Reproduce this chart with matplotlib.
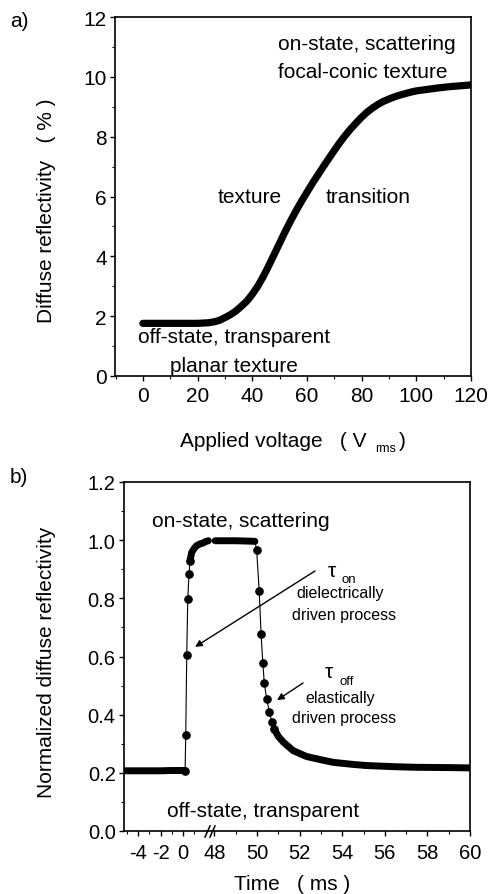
import numpy as np
import matplotlib
matplotlib.use("Agg")
import matplotlib.pyplot as plt
from matplotlib.ticker import MultipleLocator, FixedLocator
from matplotlib.path import Path

plt.rcParams['font.family'] = ['Liberation Sans', 'DejaVu Sans']

# ---------------- data: panel a ----------------
voltage = [0, 4, 8, 12, 16, 20, 24, 26, 28, 30, 32, 34, 36, 38, 40, 42, 44, 46,
           48, 50, 52, 54, 56, 58, 60, 62, 64, 66, 68, 70, 72, 74, 76, 78, 80,
           82, 84, 86, 88, 90, 92, 94, 96, 98, 100, 104, 108, 112, 116, 120]
reflect = [1.76, 1.76, 1.76, 1.76, 1.76, 1.76, 1.78, 1.81, 1.86, 1.95, 2.05,
           2.17, 2.33, 2.5, 2.73, 3.0, 3.32, 3.68, 4.06, 4.44, 4.82, 5.18, 5.52,
           5.84, 6.14, 6.44, 6.72, 7.0, 7.27, 7.54, 7.8, 8.04, 8.26, 8.46, 8.65,
           8.82, 8.96, 9.08, 9.18, 9.26, 9.33, 9.39, 9.44, 9.49, 9.53, 9.58,
           9.63, 9.67, 9.7, 9.73]
a_xticks = [0, 20, 40, 60, 80, 100, 120]
a_yticks = [0, 2, 4, 6, 8, 10, 12]

# ---------------- data: panel b ----------------
off_t = [-5.25, -4, -3, -2, -1, 0, 0.18]
off_n = [0.207, 0.207, 0.207, 0.207, 0.208, 0.208, 0.208]
rise_t = [0.18, 0.24, 0.33, 0.42, 0.53, 0.62]
rise_n = [0.208, 0.331, 0.606, 0.797, 0.884, 0.93]
top1_t = [0.62, 0.77, 1.0, 1.2, 1.5, 1.78, 2.0, 2.25]
top1_n = [0.93, 0.958, 0.972, 0.981, 0.987, 0.99, 0.995, 0.998]
top2_t = [48.03, 48.5, 49.0, 49.5, 49.9]
top2_n = [0.998, 0.998, 0.998, 0.997, 0.996]
fall_t = [49.98, 50.1, 50.19, 50.27, 50.34, 50.45, 50.58, 50.69, 50.8]
fall_n = [0.967, 0.826, 0.677, 0.577, 0.509, 0.454, 0.41, 0.376, 0.351]
tail_t = [50.8, 51.0, 51.24, 51.7, 52.33, 53.0, 53.58, 54.5, 55.15, 56.5, 57.5, 59, 60]
tail_n = [0.351, 0.325, 0.305, 0.276, 0.256, 0.245, 0.236, 0.229, 0.225, 0.221,
          0.219, 0.218, 0.217]
b_xticks = [-4, -2, 0, 48, 50, 52, 54, 56, 58, 60]
b_xminor = [-5, -3, -1, 1, 49, 51, 53, 55, 57, 59]
b_yticks = [0.0, 0.2, 0.4, 0.6, 0.8, 1.0, 1.2]

# broken time axis scale
S1, S2, TB, T0, EPS = 11.25, 21.3, 2.5, 47.845, 1e-4
UB = TB * S1
GAP = (T0 - TB) * EPS

def fwd(t):
    t = np.asarray(t, dtype=float)
    return np.where(t <= TB, t * S1,
                    np.where(t >= T0, UB + GAP + (t - T0) * S2, UB + (t - TB) * EPS))

def inv(u):
    u = np.asarray(u, dtype=float)
    return np.where(u <= UB, u / S1,
                    np.where(u >= UB + GAP, T0 + (u - UB - GAP) / S2, TB + (u - UB) / EPS))

W, H = 489, 895
fig = plt.figure(figsize=(W / 100, H / 100), dpi=100)

def fx(px):
    return px / W

def fy(py):
    return 1 - py / H

def style(ax, fs, xpad):
    ax.tick_params(which='both', direction='out', top=False, right=False)
    ax.tick_params(axis='both', which='major', length=3.5, width=1, labelsize=fs)
    ax.tick_params(axis='both', which='minor', length=2.2, width=0.8)
    ax.tick_params(axis='x', which='major', pad=xpad)
    ax.tick_params(axis='y', which='major', pad=2.5)
    for sp in ax.spines.values():
        sp.set_linewidth(1.2)

# ---------------- panel a ----------------
axa = fig.add_axes([fx(115), fy(377), (471 - 115) / W, (377 - 18) / H])
axa.plot(voltage, reflect, color='black', lw=5.2, solid_capstyle='round',
         solid_joinstyle='round')
axa.set_xlim(-10.2, 120)
axa.set_ylim(0, 12)
axa.xaxis.set_major_locator(FixedLocator(a_xticks))
axa.xaxis.set_minor_locator(MultipleLocator(10))
axa.yaxis.set_major_locator(FixedLocator(a_yticks))
axa.yaxis.set_minor_locator(MultipleLocator(1))
style(axa, 15, 4)

axa.text(49.4, 10.94, 'on-state, scattering', fontsize=15, ha='left', va='baseline')
axa.text(49.4, 10.0, 'focal-conic texture', fontsize=15, ha='left', va='baseline')
axa.text(27.4, 5.82, 'texture', fontsize=15, ha='left', va='baseline')
axa.text(67.0, 5.82, 'transition', fontsize=15, ha='left', va='baseline')
axa.text(-1.8, 1.14, 'off-state, transparent', fontsize=15, ha='left', va='baseline')
axa.text(9.9, 0.17, 'planar texture', fontsize=15, ha='left', va='baseline')

fig.text(fx(10), fy(12), 'a)', fontsize=15, ha='left', va='top')
fig.text(fx(47), fy(211), 'Diffuse reflectivity   ( % )', fontsize=15,
         rotation=90, ha='center', va='center')
fig.text(fx(180), fy(447), 'Applied voltage   ( V', fontsize=15, ha='left', va='baseline')
fig.text(fx(375), fy(452), 'rms', fontsize=9, ha='left', va='baseline')
fig.text(fx(399), fy(447), ')', fontsize=15, ha='left', va='baseline')

# ---------------- panel b ----------------
axb = fig.add_axes([fx(124), fy(832), (470 - 124) / W, (832 - 483) / H])
axb.set_xscale('function', functions=(fwd, inv))
axb.set_xlim(-5.25, 60)
axb.set_ylim(0, 1.2)

lw_dense = 5.0
# thin connecting lines
axb.plot(off_t + rise_t[1:] + top1_t[1:], off_n + rise_n[1:] + top1_n[1:],
         color='black', lw=0.8)
axb.plot(top2_t + fall_t + tail_t[1:], top2_n + fall_n + tail_n[1:],
         color='black', lw=0.8)
# dense segments
for tt, nn in ((off_t, off_n), (top1_t, top1_n), (top2_t, top2_n), (tail_t, tail_n)):
    axb.plot(tt, nn, color='black', lw=lw_dense, solid_capstyle='round',
             solid_joinstyle='round')
# sparse points
axb.plot(rise_t, rise_n, 'o', color='black', ms=5.2)
axb.plot(fall_t, fall_n, 'o', color='black', ms=5.2)

axb.xaxis.set_major_locator(FixedLocator(b_xticks))
axb.xaxis.set_minor_locator(FixedLocator(b_xminor))
axb.xaxis.set_major_formatter(matplotlib.ticker.FuncFormatter(lambda v, p: '%d' % round(v)))
axb.yaxis.set_major_locator(FixedLocator(b_yticks))
axb.yaxis.set_minor_locator(MultipleLocator(0.1))
axb.yaxis.set_major_formatter(matplotlib.ticker.FormatStrFormatter('%.1f'))
style(axb, 14.5, 5.5)

# break marks on the time axis
slash = Path([(-0.45, -1.0), (0.45, 1.0)], [Path.MOVETO, Path.LINETO])
axb.plot([2.15, 47.89], [0, 0], linestyle='none', marker=slash, ms=9,
         mec='black', mfc='none', mew=1.1, transform=axb.get_xaxis_transform(),
         clip_on=False)

axb.text(-2.76, 1.049, 'on-state, scattering', fontsize=15, ha='left', va='baseline')
axb.text(53.33, 0.877, 'τ', fontsize=15, ha='left', va='baseline')
axb.text(53.95, 0.855, 'on', fontsize=9.5, ha='left', va='baseline')
axb.text(53.9, 0.805, 'dielectrically', fontsize=11.5, ha='center', va='baseline')
axb.text(54.1, 0.729, 'driven process', fontsize=11.5, ha='center', va='baseline')
axb.annotate('', xy=(1.07, 0.633), xytext=(52.72, 0.894),
             arrowprops=dict(arrowstyle='-|>', color='black', lw=1.0,
                             mutation_scale=10, shrinkA=0, shrinkB=0))

axb.text(53.2, 0.53, 'τ', fontsize=15, ha='left', va='baseline')
axb.text(53.85, 0.505, 'off', fontsize=9.5, ha='left', va='baseline')
axb.text(53.9, 0.444, 'elastically', fontsize=11.5, ha='center', va='baseline')
axb.text(54.1, 0.375, 'driven process', fontsize=11.5, ha='center', va='baseline')
axb.annotate('', xy=(50.94, 0.45), xytext=(52.16, 0.509),
             arrowprops=dict(arrowstyle='-|>', color='black', lw=1.0,
                             mutation_scale=10, shrinkA=0, shrinkB=0))

axb.text(-1.42, 0.052, 'off-state, transparent', fontsize=15, ha='left', va='baseline')

fig.text(fx(10), fy(468), 'b)', fontsize=15, ha='left', va='top')
fig.text(fx(47), fy(662), 'Normalized diffuse reflectivity', fontsize=15,
         rotation=90, ha='center', va='center')
fig.text(fx(292), fy(890), 'Time   ( ms )', fontsize=15, ha='center', va='baseline')

fig.savefig('out.png', dpi=100)
